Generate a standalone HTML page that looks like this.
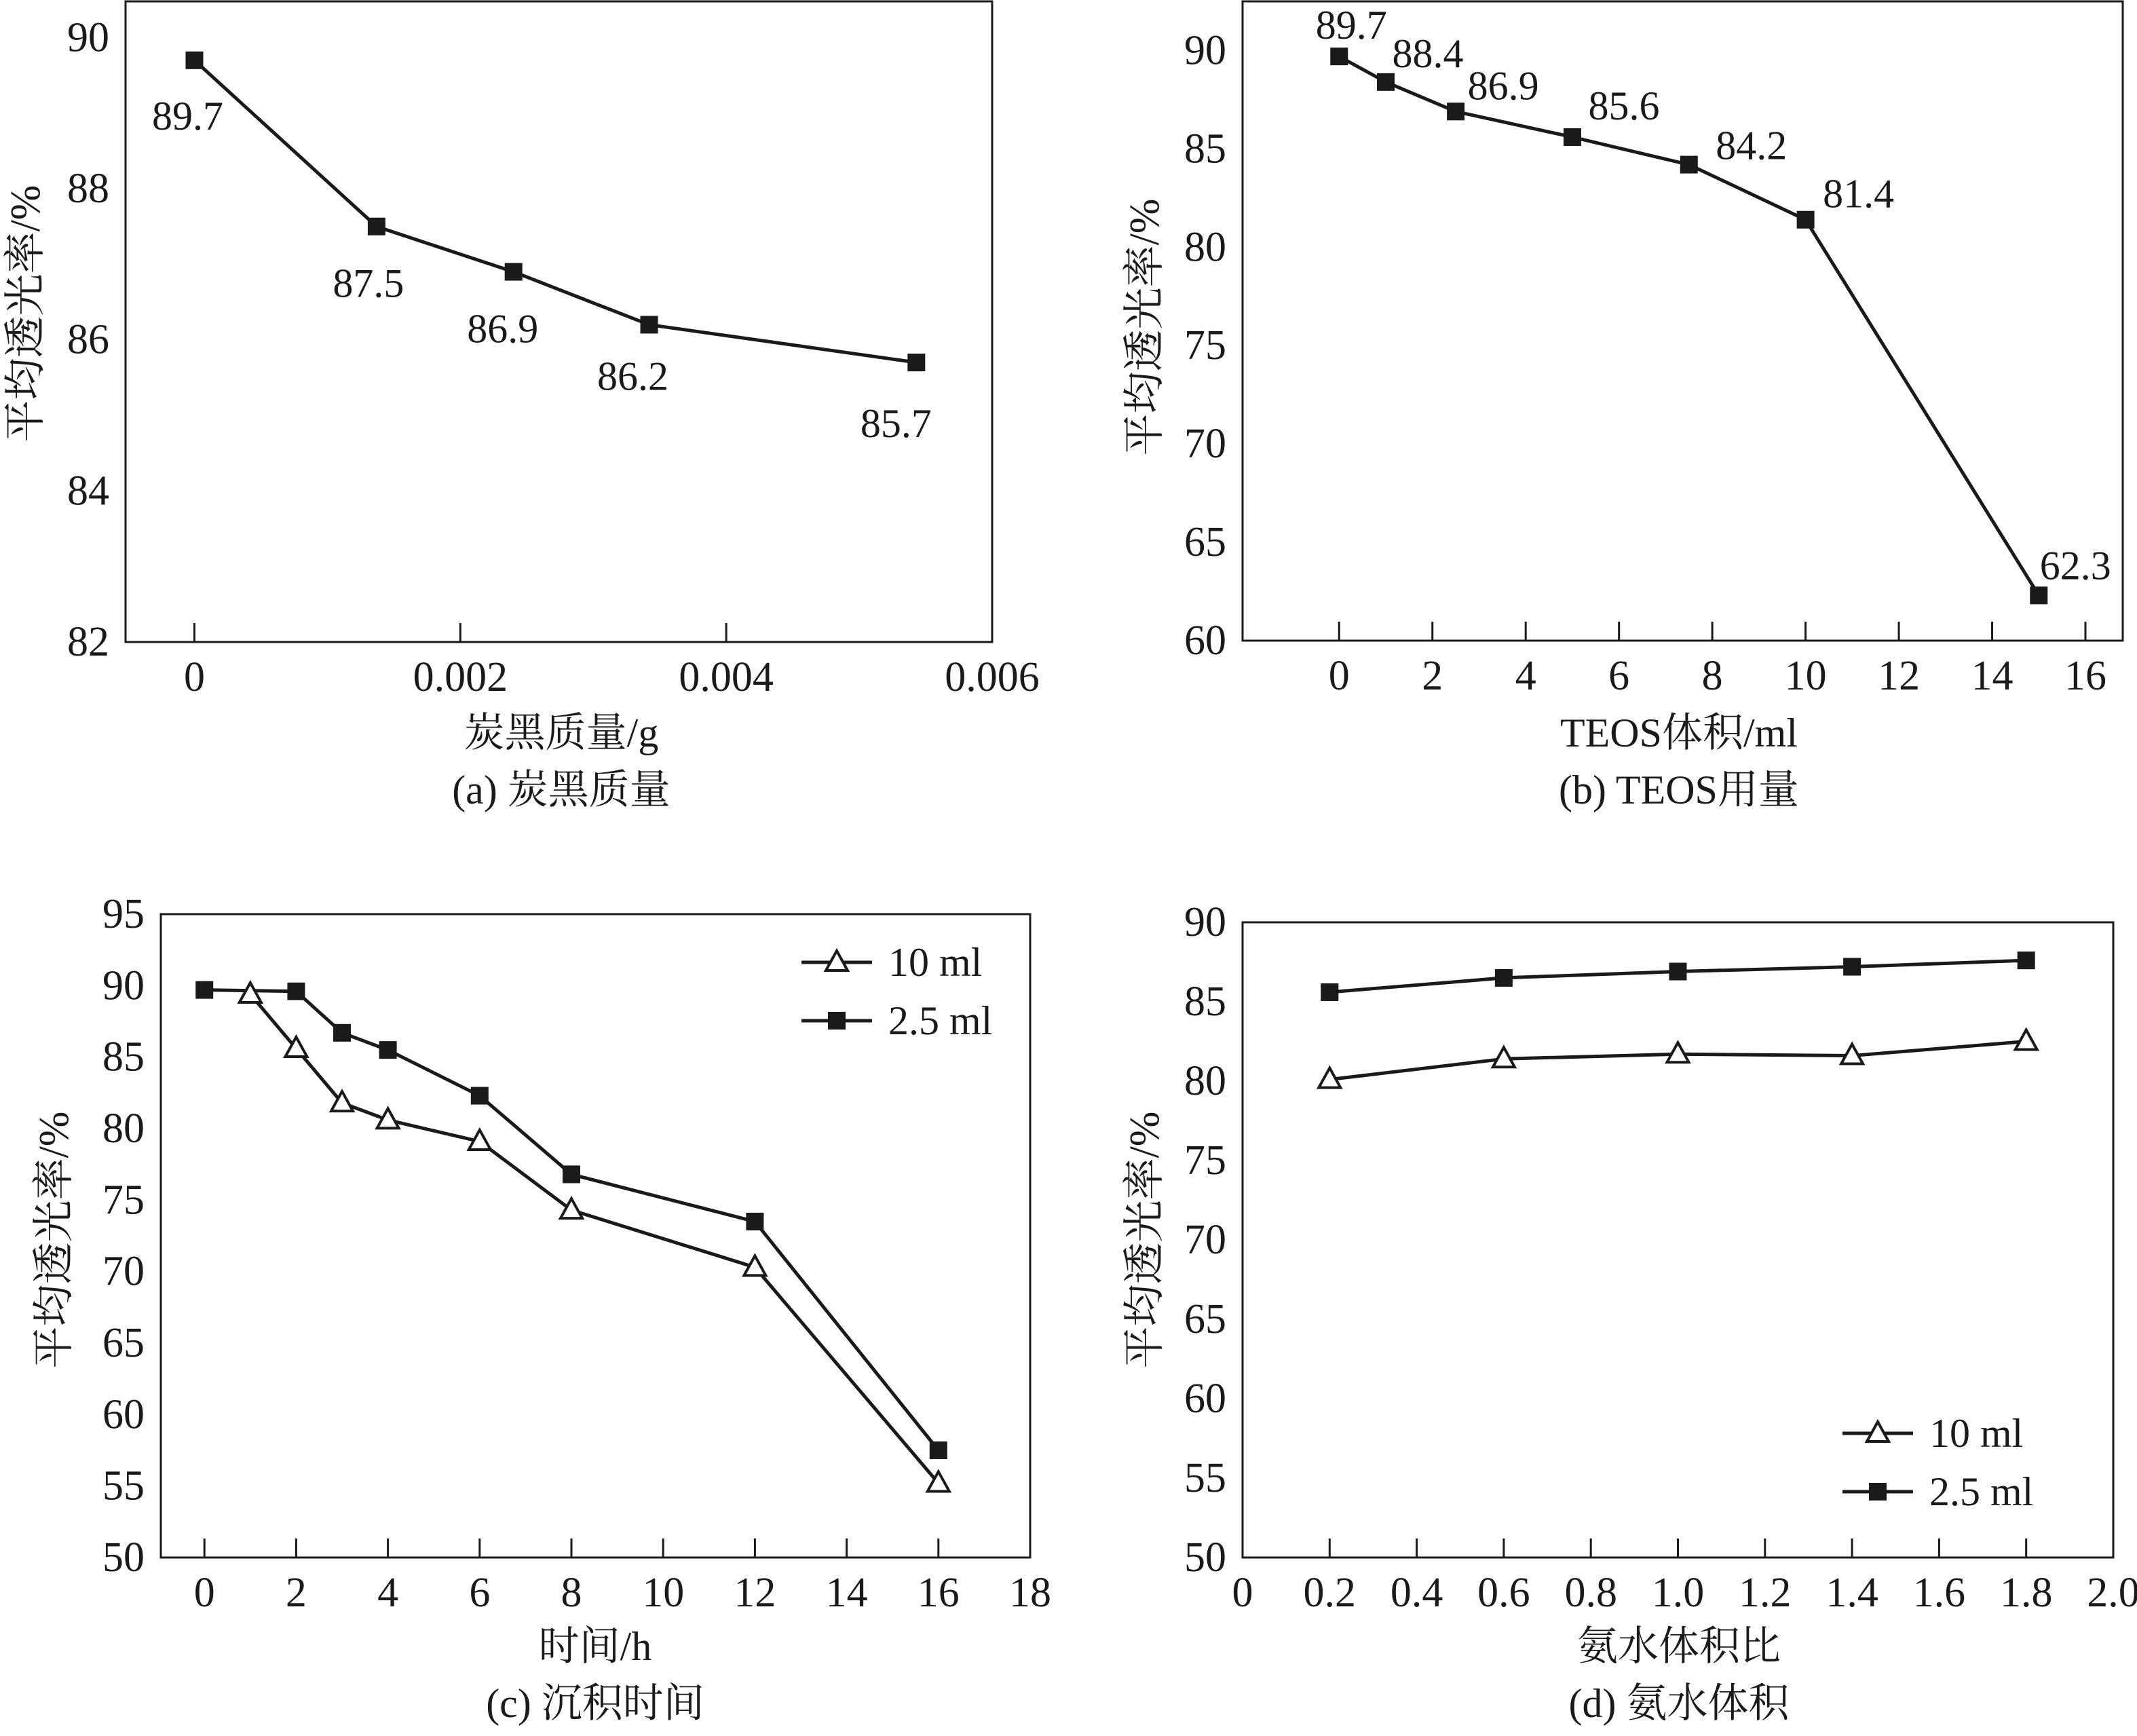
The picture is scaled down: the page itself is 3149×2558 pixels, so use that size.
<!DOCTYPE html>
<html><head><meta charset="utf-8"><style>
html,body{margin:0;padding:0;background:#fff;overflow:hidden}
svg{display:block}
text{font-family:"Liberation Serif","Noto Serif CJK SC","Noto Sans CJK SC",serif;fill:#1a1a1a}
</style></head><body>
<svg id="fig" width="3149" height="2558" viewBox="0 0 3149 2558" xmlns="http://www.w3.org/2000/svg"></svg>
<script>
// Panel (a)
const aX = [0, 0.00137, 0.0024, 0.00342, 0.00543];
const aY = [89.7, 87.5, 86.9, 86.2, 85.7];
const aLabels = ["89.7", "87.5", "86.9", "86.2", "85.7"];
const aXTicks = [0, 0.002, 0.004, 0.006];
const aXTickLabels = ["0", "0.002", "0.004", "0.006"];
const aYTicks = [82, 84, 86, 88, 90];
// Panel (b)
const bX = [0, 1, 2.5, 5, 7.5, 10, 15];
const bY = [89.7, 88.4, 86.9, 85.6, 84.2, 81.4, 62.3];
const bLabels = ["89.7", "88.4", "86.9", "85.6", "84.2", "81.4", "62.3"];
const bXTicks = [0, 2, 4, 6, 8, 10, 12, 14, 16];
const bYTicks = [60, 65, 70, 75, 80, 85, 90];
// Panel (c)
const cXTri = [1, 2, 3, 4, 6, 8, 12, 16];
const cYTri = [89.4, 85.6, 81.8, 80.6, 79.1, 74.3, 70.3, 55.2];
const cXSq = [0, 2, 3, 4, 6, 8, 12, 16];
const cYSq = [89.7, 89.6, 86.7, 85.5, 82.3, 76.8, 73.5, 57.5];
const cXTicks = [0, 2, 4, 6, 8, 10, 12, 14, 16, 18];
const cYTicks = [50, 55, 60, 65, 70, 75, 80, 85, 90, 95];
// Panel (d)
const dX = [0.2, 0.6, 1.0, 1.4, 1.8];
const dYTri = [80.1, 81.4, 81.7, 81.6, 82.5];
const dYSq = [85.6, 86.5, 86.9, 87.2, 87.6];
const dXTicks = [0, 0.2, 0.4, 0.6, 0.8, 1.0, 1.2, 1.4, 1.6, 1.8, 2.0];
const dXTickLabels = ["0", "0.2", "0.4", "0.6", "0.8", "1.0", "1.2", "1.4", "1.6", "1.8", "2.0"];
const dYTicks = [50, 55, 60, 65, 70, 75, 80, 85, 90];

const NS = "http://www.w3.org/2000/svg";
const svg = document.getElementById("fig");
function mk(tag, attrs, parent) {
  const e = document.createElementNS(NS, tag);
  for (const k in attrs) e.setAttribute(k, attrs[k]);
  (parent || svg).appendChild(e);
  return e;
}
function txt(s, x, y, size, anchor, parent) {
  const t = mk("text", {x: x, y: y, "font-size": size, "text-anchor": anchor || "middle", "dominant-baseline": "central"}, parent);
  t.textContent = s;
  return t;
}
function marker(type, x, y, parent) {
  if (type === "sq") return mk("rect", {x: x - 13, y: y - 13, width: 26, height: 26, fill: "#1a1a1a"}, parent);
  return mk("polygon", {points: `${x},${y - 17} ${x - 16},${y + 12} ${x + 16},${y + 12}`, fill: "#fff", stroke: "#1a1a1a", "stroke-width": 4}, parent);
}

function panel(p) {
  const g = mk("g", {});
  
  
  const sx = v => p.L + (v - p.x0) / (p.x1 - p.x0) * (p.R - p.L);
  const sy = v => p.B - (v - p.y0) / (p.y1 - p.y0) * (p.B - p.T);
  const box = mk("rect", {x: p.L, y: p.T, width: p.R - p.L, height: p.B - p.T, fill: "none", stroke: "#1a1a1a", "stroke-width": 3}, g);
  
  
  p.xTicks.forEach((v, i) => {
    const x = sx(v);
    if (x < p.R - 5 && x > p.L + 5) {
      const tk = mk("line", {x1: x, x2: x, y1: p.B, y2: p.B - 28, stroke: "#1a1a1a", "stroke-width": 3}, g);
      
      
    }
    const t = txt(p.xTickLabels ? p.xTickLabels[i] : String(v), x, p.B + 52, 62, "middle", g);
    
    
  });
  p.yTicks.forEach(v => {
    const t = txt(String(v), p.L - 24, sy(v), 62, "end", g);
    
    
  });
  p.series.forEach(s => {
    const pts = s.x.map((v, i) => sx(v) + "," + sy(s.y[i])).join(" ");
    const ln = mk("polyline", {points: pts, fill: "none", stroke: "#1a1a1a", "stroke-width": 5}, g);
    
    
  });
  p.series.forEach(s => {
    s.x.forEach((v, i) => {
      const m = marker(s.type, sx(v), sy(s.y[i]), g);
      
      
      if (s.labels) {
        const t = txt(s.labels[i], sx(v) + s.off[i][0], sy(s.y[i]) + s.off[i][1], 60, "middle", g);
        
        
      }
    });
  });
  const xt = txt(p.xTitle, p.xTitlePos[0], p.xTitlePos[1], 60, "middle", g);
  
  
  const cap = txt(p.caption, p.xTitlePos[0], p.xTitlePos[1] + 84, 60, "middle", g);
  
  
  const yt = txt("平均透光率/%", 0, 0, 62, "middle", g);
  yt.setAttribute("transform", `translate(${p.yTitlePos[0]},${p.yTitlePos[1]}) rotate(-90)`);
  
  
  if (p.legend) {
    const [lx, ly] = p.legend;
    [["tri", "10 ml"], ["sq", "2.5 ml"]].forEach((e, i) => {
      const lg = mk("g", {}, g);
      
      
      const y = ly + i * 86;
      mk("line", {x1: lx, x2: lx + 104, y1: y, y2: y, stroke: "#1a1a1a", "stroke-width": 5}, lg);
      marker(e[0], lx + 52, y, lg);
      txt(e[1], lx + 128, y, 60, "start", lg);
    });
  }
}

panel({name: "panel-a", L: 185, R: 1462, T: 2, B: 946, x0: -0.000518, x1: 0.006, y0: 82, y1: 90.48,
  xTicks: aXTicks, xTickLabels: aXTickLabels, yTicks: aYTicks,
  series: [{name: "carbon-black", type: "sq", x: aX, y: aY, labels: aLabels,
    off: [[-10, 82], [-12, 84], [-16, 84], [-24, 76], [-30, 90]]}],
  xTitle: "炭黑质量/g", xTitlePos: [827, 1080], caption: "(a) 炭黑质量", yTitlePos: [38, 462]});

panel({name: "panel-b", L: 1831, R: 3128, T: 2, B: 944, x0: -2.07, x1: 16.8, y0: 60, y1: 92.5,
  xTicks: bXTicks, yTicks: bYTicks,
  series: [{name: "teos", type: "sq", x: bX, y: bY, labels: bLabels,
    off: [[18, -46], [62, -42], [70, -38], [76, -46], [92, -28], [78, -38], [54, -44]]}],
  xTitle: "TEOS体积/ml", xTitlePos: [2474, 1080], caption: "(b) TEOS用量", yTitlePos: [1687, 482]});

panel({name: "panel-c", L: 237, R: 1518, T: 1347, B: 2295, x0: -0.95, x1: 18, y0: 50, y1: 95,
  xTicks: cXTicks, yTicks: cYTicks,
  series: [{name: "series-10ml", type: "tri", x: cXTri, y: cYTri},
           {name: "series-2-5ml", type: "sq", x: cXSq, y: cYSq}],
  xTitle: "时间/h", xTitlePos: [877, 2426], caption: "(c) 沉积时间", yTitlePos: [80, 1827],
  legend: [1181, 1418]});

panel({name: "panel-d", L: 1831, R: 3114, T: 1359, B: 2295, x0: 0, x1: 2.0, y0: 50, y1: 90,
  xTicks: dXTicks, xTickLabels: dXTickLabels, yTicks: dYTicks,
  series: [{name: "series-10ml", type: "tri", x: dX, y: dYTri},
           {name: "series-2-5ml", type: "sq", x: dX, y: dYSq}],
  xTitle: "氨水体积比", xTitlePos: [2474, 2426], caption: "(d) 氨水体积", yTitlePos: [1687, 1827],
  legend: [2715, 2112]});
</script>
</body></html>
